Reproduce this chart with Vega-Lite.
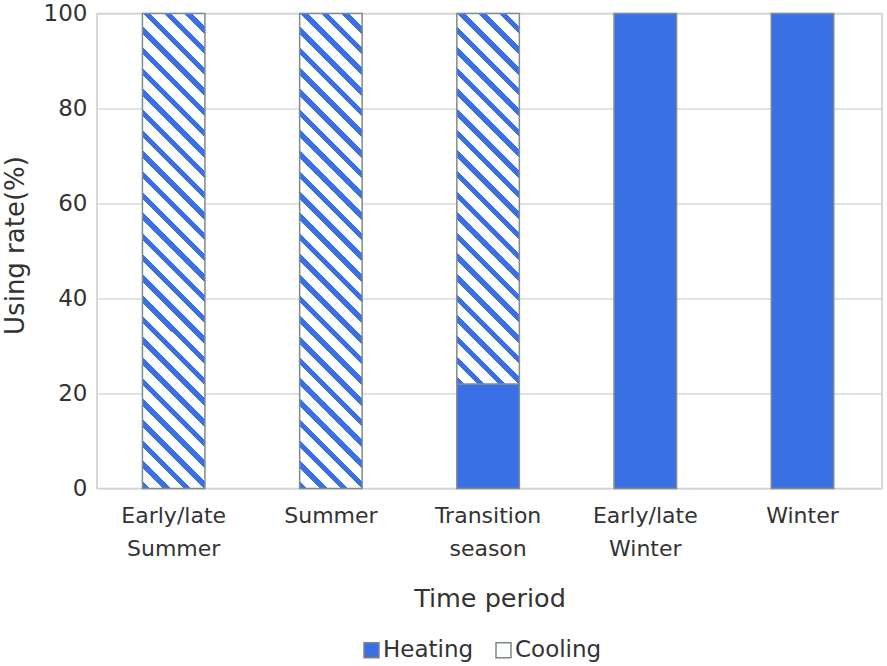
{
  "$schema": "https://vega.github.io/schema/vega-lite/v6.json",
  "autosize": {"type": "none"},
  "padding": {"left": 97, "top": 13.5, "right": 5, "bottom": 177.5},
  "width": 785,
  "height": 475,
  "background": "#ffffff",
  "config": {
    "view": {"stroke": "#c6cdcb", "strokeWidth": 1.5},
    "font": "DejaVu Sans"
  },
  "data": {
    "values": [
      {"period": "Early/late Summer", "type": "Cooling", "value": 100},
      {"period": "Summer", "type": "Cooling", "value": 100},
      {"period": "Transition season", "type": "Heating", "value": 22},
      {"period": "Transition season", "type": "Cooling", "value": 78},
      {"period": "Early/late Winter", "type": "Heating", "value": 100},
      {"period": "Winter", "type": "Heating", "value": 100}
    ]
  },
  "mark": {"type": "bar", "stroke": "#808b8b", "strokeWidth": 1.5},
  "encoding": {
    "x": {
      "field": "period",
      "type": "nominal",
      "sort": ["Early/late Summer", "Summer", "Transition season", "Early/late Winter", "Winter"],
      "scale": {"paddingInner": 0.6024, "paddingOuter": 0.298, "align": 0.485},
      "axis": {
        "labelAngle": 0,
        "labelExpr": "split(datum.label, ' ')",
        "labelFont": "DejaVu Sans",
        "labelFontSize": 22,
        "labelLineHeight": 33.3,
        "labelPadding": 17,
        "labelColor": "#333333",
        "ticks": false,
        "domain": false,
        "grid": false,
        "title": "Time period",
        "titleFont": "DejaVu Sans",
        "titleFontSize": 25.5,
        "titleFontWeight": "normal",
        "titleColor": "#333333",
        "titleY": 118.2,
        "titleBaseline": "alphabetic"
      }
    },
    "y": {
      "field": "value",
      "type": "quantitative",
      "stack": "zero",
      "scale": {"domain": [0, 100], "nice": false},
      "axis": {
        "values": [0, 20, 40, 60, 80, 100],
        "grid": true,
        "gridColor": "#d4dad8",
        "gridWidth": 1.5,
        "domain": false,
        "ticks": false,
        "labelFont": "DejaVu Sans",
        "labelFontSize": 23,
        "labelColor": "#333333",
        "labelPadding": 10,
        "title": "Using rate(%)",
        "titleFont": "DejaVu Sans",
        "titleFontSize": 26,
        "titleFontWeight": "normal",
        "titleColor": "#333333",
        "titleAngle": -90,
        "titleX": -73.5,
        "titleY": 231.5,
        "titleAlign": "center",
        "titleBaseline": "alphabetic"
      }
    },
    "order": {"field": "type", "sort": "descending"},
    "fill": {
      "condition": [
        {
          "test": "datum.type === 'Cooling' && datum.period === 'Transition season'",
          "value": {
            "gradient": "linear", "x1": 0, "y1": 1, "x2": 0.19169, "y2": -0.136361,
            "stops": [
              {"offset": 0, "color": "#3a70e6"}, {"offset": 0.01732, "color": "#3a70e6"}, {"offset": 0.01732, "color": "#ffffff"}, {"offset": 0.047619, "color": "#ffffff"},
              {"offset": 0.047619, "color": "#3a70e6"}, {"offset": 0.064939, "color": "#3a70e6"}, {"offset": 0.064939, "color": "#ffffff"}, {"offset": 0.095238, "color": "#ffffff"},
              {"offset": 0.095238, "color": "#3a70e6"}, {"offset": 0.112558, "color": "#3a70e6"}, {"offset": 0.112558, "color": "#ffffff"}, {"offset": 0.142857, "color": "#ffffff"},
              {"offset": 0.142857, "color": "#3a70e6"}, {"offset": 0.160177, "color": "#3a70e6"}, {"offset": 0.160177, "color": "#ffffff"}, {"offset": 0.190476, "color": "#ffffff"},
              {"offset": 0.190476, "color": "#3a70e6"}, {"offset": 0.207796, "color": "#3a70e6"}, {"offset": 0.207796, "color": "#ffffff"}, {"offset": 0.238095, "color": "#ffffff"},
              {"offset": 0.238095, "color": "#3a70e6"}, {"offset": 0.255415, "color": "#3a70e6"}, {"offset": 0.255415, "color": "#ffffff"}, {"offset": 0.285714, "color": "#ffffff"},
              {"offset": 0.285714, "color": "#3a70e6"}, {"offset": 0.303034, "color": "#3a70e6"}, {"offset": 0.303034, "color": "#ffffff"}, {"offset": 0.333333, "color": "#ffffff"},
              {"offset": 0.333333, "color": "#3a70e6"}, {"offset": 0.350653, "color": "#3a70e6"}, {"offset": 0.350653, "color": "#ffffff"}, {"offset": 0.380952, "color": "#ffffff"},
              {"offset": 0.380952, "color": "#3a70e6"}, {"offset": 0.398272, "color": "#3a70e6"}, {"offset": 0.398272, "color": "#ffffff"}, {"offset": 0.428571, "color": "#ffffff"},
              {"offset": 0.428571, "color": "#3a70e6"}, {"offset": 0.445891, "color": "#3a70e6"}, {"offset": 0.445891, "color": "#ffffff"}, {"offset": 0.47619, "color": "#ffffff"},
              {"offset": 0.47619, "color": "#3a70e6"}, {"offset": 0.49351, "color": "#3a70e6"}, {"offset": 0.49351, "color": "#ffffff"}, {"offset": 0.52381, "color": "#ffffff"},
              {"offset": 0.52381, "color": "#3a70e6"}, {"offset": 0.54113, "color": "#3a70e6"}, {"offset": 0.54113, "color": "#ffffff"}, {"offset": 0.571429, "color": "#ffffff"},
              {"offset": 0.571429, "color": "#3a70e6"}, {"offset": 0.588749, "color": "#3a70e6"}, {"offset": 0.588749, "color": "#ffffff"}, {"offset": 0.619048, "color": "#ffffff"},
              {"offset": 0.619048, "color": "#3a70e6"}, {"offset": 0.636368, "color": "#3a70e6"}, {"offset": 0.636368, "color": "#ffffff"}, {"offset": 0.666667, "color": "#ffffff"},
              {"offset": 0.666667, "color": "#3a70e6"}, {"offset": 0.683987, "color": "#3a70e6"}, {"offset": 0.683987, "color": "#ffffff"}, {"offset": 0.714286, "color": "#ffffff"},
              {"offset": 0.714286, "color": "#3a70e6"}, {"offset": 0.731606, "color": "#3a70e6"}, {"offset": 0.731606, "color": "#ffffff"}, {"offset": 0.761905, "color": "#ffffff"},
              {"offset": 0.761905, "color": "#3a70e6"}, {"offset": 0.779225, "color": "#3a70e6"}, {"offset": 0.779225, "color": "#ffffff"}, {"offset": 0.809524, "color": "#ffffff"},
              {"offset": 0.809524, "color": "#3a70e6"}, {"offset": 0.826844, "color": "#3a70e6"}, {"offset": 0.826844, "color": "#ffffff"}, {"offset": 0.857143, "color": "#ffffff"},
              {"offset": 0.857143, "color": "#3a70e6"}, {"offset": 0.874463, "color": "#3a70e6"}, {"offset": 0.874463, "color": "#ffffff"}, {"offset": 0.904762, "color": "#ffffff"},
              {"offset": 0.904762, "color": "#3a70e6"}, {"offset": 0.922082, "color": "#3a70e6"}, {"offset": 0.922082, "color": "#ffffff"}, {"offset": 0.952381, "color": "#ffffff"},
              {"offset": 0.952381, "color": "#3a70e6"}, {"offset": 0.969701, "color": "#3a70e6"}, {"offset": 0.969701, "color": "#ffffff"}, {"offset": 1, "color": "#ffffff"}
            ]
          }
        },
        {
          "test": "datum.type === 'Cooling'",
          "value": {
            "gradient": "linear", "x1": 0, "y1": 1, "x2": 0.146358, "y2": -0.112322,
            "stops": [
              {"offset": 0, "color": "#3a70e6"}, {"offset": 0.01395, "color": "#3a70e6"}, {"offset": 0.01395, "color": "#ffffff"}, {"offset": 0.038462, "color": "#ffffff"},
              {"offset": 0.038462, "color": "#3a70e6"}, {"offset": 0.052412, "color": "#3a70e6"}, {"offset": 0.052412, "color": "#ffffff"}, {"offset": 0.076923, "color": "#ffffff"},
              {"offset": 0.076923, "color": "#3a70e6"}, {"offset": 0.090873, "color": "#3a70e6"}, {"offset": 0.090873, "color": "#ffffff"}, {"offset": 0.115385, "color": "#ffffff"},
              {"offset": 0.115385, "color": "#3a70e6"}, {"offset": 0.129335, "color": "#3a70e6"}, {"offset": 0.129335, "color": "#ffffff"}, {"offset": 0.153846, "color": "#ffffff"},
              {"offset": 0.153846, "color": "#3a70e6"}, {"offset": 0.167796, "color": "#3a70e6"}, {"offset": 0.167796, "color": "#ffffff"}, {"offset": 0.192308, "color": "#ffffff"},
              {"offset": 0.192308, "color": "#3a70e6"}, {"offset": 0.206258, "color": "#3a70e6"}, {"offset": 0.206258, "color": "#ffffff"}, {"offset": 0.230769, "color": "#ffffff"},
              {"offset": 0.230769, "color": "#3a70e6"}, {"offset": 0.244719, "color": "#3a70e6"}, {"offset": 0.244719, "color": "#ffffff"}, {"offset": 0.269231, "color": "#ffffff"},
              {"offset": 0.269231, "color": "#3a70e6"}, {"offset": 0.283181, "color": "#3a70e6"}, {"offset": 0.283181, "color": "#ffffff"}, {"offset": 0.307692, "color": "#ffffff"},
              {"offset": 0.307692, "color": "#3a70e6"}, {"offset": 0.321642, "color": "#3a70e6"}, {"offset": 0.321642, "color": "#ffffff"}, {"offset": 0.346154, "color": "#ffffff"},
              {"offset": 0.346154, "color": "#3a70e6"}, {"offset": 0.360104, "color": "#3a70e6"}, {"offset": 0.360104, "color": "#ffffff"}, {"offset": 0.384615, "color": "#ffffff"},
              {"offset": 0.384615, "color": "#3a70e6"}, {"offset": 0.398565, "color": "#3a70e6"}, {"offset": 0.398565, "color": "#ffffff"}, {"offset": 0.423077, "color": "#ffffff"},
              {"offset": 0.423077, "color": "#3a70e6"}, {"offset": 0.437027, "color": "#3a70e6"}, {"offset": 0.437027, "color": "#ffffff"}, {"offset": 0.461538, "color": "#ffffff"},
              {"offset": 0.461538, "color": "#3a70e6"}, {"offset": 0.475488, "color": "#3a70e6"}, {"offset": 0.475488, "color": "#ffffff"}, {"offset": 0.5, "color": "#ffffff"},
              {"offset": 0.5, "color": "#3a70e6"}, {"offset": 0.51395, "color": "#3a70e6"}, {"offset": 0.51395, "color": "#ffffff"}, {"offset": 0.538462, "color": "#ffffff"},
              {"offset": 0.538462, "color": "#3a70e6"}, {"offset": 0.552412, "color": "#3a70e6"}, {"offset": 0.552412, "color": "#ffffff"}, {"offset": 0.576923, "color": "#ffffff"},
              {"offset": 0.576923, "color": "#3a70e6"}, {"offset": 0.590873, "color": "#3a70e6"}, {"offset": 0.590873, "color": "#ffffff"}, {"offset": 0.615385, "color": "#ffffff"},
              {"offset": 0.615385, "color": "#3a70e6"}, {"offset": 0.629335, "color": "#3a70e6"}, {"offset": 0.629335, "color": "#ffffff"}, {"offset": 0.653846, "color": "#ffffff"},
              {"offset": 0.653846, "color": "#3a70e6"}, {"offset": 0.667796, "color": "#3a70e6"}, {"offset": 0.667796, "color": "#ffffff"}, {"offset": 0.692308, "color": "#ffffff"},
              {"offset": 0.692308, "color": "#3a70e6"}, {"offset": 0.706258, "color": "#3a70e6"}, {"offset": 0.706258, "color": "#ffffff"}, {"offset": 0.730769, "color": "#ffffff"},
              {"offset": 0.730769, "color": "#3a70e6"}, {"offset": 0.744719, "color": "#3a70e6"}, {"offset": 0.744719, "color": "#ffffff"}, {"offset": 0.769231, "color": "#ffffff"},
              {"offset": 0.769231, "color": "#3a70e6"}, {"offset": 0.783181, "color": "#3a70e6"}, {"offset": 0.783181, "color": "#ffffff"}, {"offset": 0.807692, "color": "#ffffff"},
              {"offset": 0.807692, "color": "#3a70e6"}, {"offset": 0.821642, "color": "#3a70e6"}, {"offset": 0.821642, "color": "#ffffff"}, {"offset": 0.846154, "color": "#ffffff"},
              {"offset": 0.846154, "color": "#3a70e6"}, {"offset": 0.860104, "color": "#3a70e6"}, {"offset": 0.860104, "color": "#ffffff"}, {"offset": 0.884615, "color": "#ffffff"},
              {"offset": 0.884615, "color": "#3a70e6"}, {"offset": 0.898565, "color": "#3a70e6"}, {"offset": 0.898565, "color": "#ffffff"}, {"offset": 0.923077, "color": "#ffffff"},
              {"offset": 0.923077, "color": "#3a70e6"}, {"offset": 0.937027, "color": "#3a70e6"}, {"offset": 0.937027, "color": "#ffffff"}, {"offset": 0.961538, "color": "#ffffff"},
              {"offset": 0.961538, "color": "#3a70e6"}, {"offset": 0.975488, "color": "#3a70e6"}, {"offset": 0.975488, "color": "#ffffff"}, {"offset": 1, "color": "#ffffff"}
            ]
          }
        }
      ],
      "field": "type",
      "type": "nominal",
      "scale": {"domain": ["Heating", "Cooling"], "range": ["#3a70e6", "#ffffff"]},
      "legend": {
        "title": null,
        "orient": "none",
        "legendX": 263,
        "legendY": 625,
        "direction": "horizontal",
        "columns": 2,
        "symbolType": "square",
        "symbolSize": 225,
        "symbolStrokeColor": "#7d8787",
        "symbolStrokeWidth": 1.5,
        "labelFont": "DejaVu Sans",
        "labelFontSize": 23,
        "labelColor": "#333333",
        "labelOffset": 0,
        "columnPadding": 18,
        "padding": 0,
        "encode": {
          "symbols": {
            "update": {
              "fill": {"signal": "datum.value === 'Cooling' ? {gradient: 'linear', x1: 0, y1: 1, x2: 1, y2: 0, stops: [{offset: 0, color: '#3a70e6'}, {offset: 0.4, color: '#3a70e6'}, {offset: 0.4, color: '#ffffff'}, {offset: 1, color: '#ffffff'}]} : '#3a70e6'"},
              "stroke": {"value": "#7d8787"},
              "strokeWidth": {"value": 1.5}
            }
          }
        }
      }
    }
  }
}
